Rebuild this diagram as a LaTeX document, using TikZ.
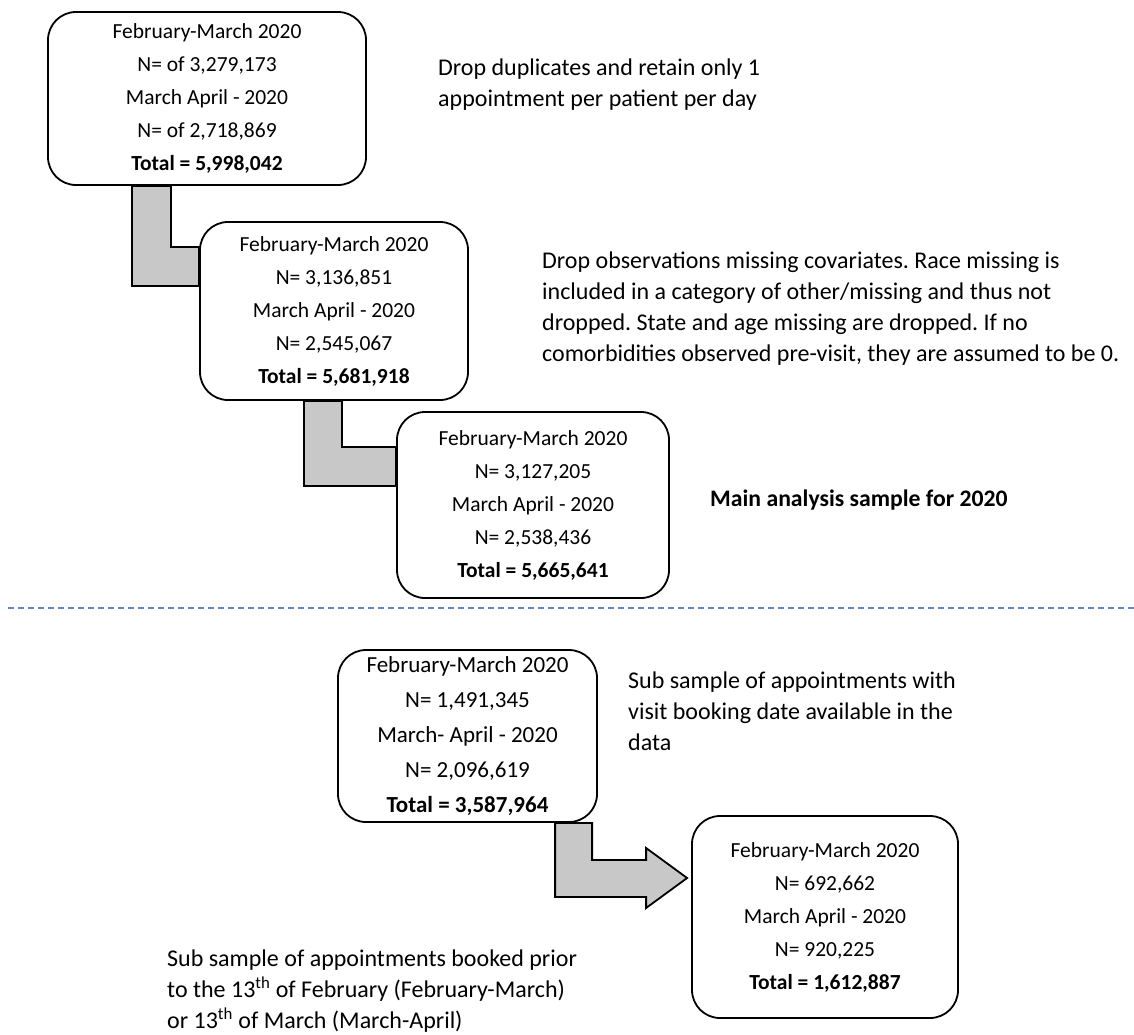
\documentclass[tikz,border=0pt]{standalone}
\usepackage{fontspec}
\setmainfont{Carlito}
\frenchspacing
\usetikzlibrary{calc}
\definecolor{arrowgray}{RGB}{200,200,200}
\definecolor{sepblue}{RGB}{100,135,195}
\begin{document}
\begin{tikzpicture}[x=1pt,y=-1pt,
  box/.style={draw, line width=1.8pt, rounded corners=28pt, fill=white, align=center,
    inner sep=0pt, font=\fontsize{21.5}{33}\selectfont},
  note/.style={anchor=west, align=left, inner sep=0pt, font=\fontsize{24}{31}\selectfont},
  fatarrow/.style={draw, line width=1.8pt, fill=arrowgray, line join=miter},
  sepline/.style={draw=sepblue, line width=1.5pt, dash pattern=on 6pt off 4pt}]
\useasboundingbox (0,0) rectangle (1134,1034);

% boxes
\node[box, minimum width=318pt, minimum height=173pt] (b1) at (207,98.5)
  {February-March 2020\\N= of 3,279,173\\March April - 2020\\N= of 2,718,869\\\textbf{Total = 5,998,042}};
\node[box, minimum width=268pt, minimum height=178pt] (b2) at (334,311)
  {February-March 2020\\N= 3,136,851\\March April - 2020\\N= 2,545,067\\\textbf{Total = 5,681,918}};
\node[box, minimum width=272pt, minimum height=186pt] (b3) at (533,505)
  {February-March 2020\\N= 3,127,205\\March April - 2020\\N= 2,538,436\\\textbf{Total = 5,665,641}};
\node[box, minimum width=259pt, minimum height=172pt, font=\fontsize{23}{35}\selectfont] (b4) at (467.5,736)
  {February-March 2020\\N= 1,491,345\\March- April - 2020\\N= 2,096,619\\\textbf{Total = 3,587,964}};
\node[box, minimum width=266pt, minimum height=202pt] (b5) at (825,917)
  {February-March 2020\\N= 692,662\\March April - 2020\\N= 920,225\\\textbf{Total = 1,612,887}};

% side notes
\node[note] (n1) at (438,85) {Drop duplicates and retain only 1\\appointment per patient per day};
\node[note] (n2) at (542,309) {Drop observations missing covariates. Race missing is\\included in a category of other/missing and thus not\\dropped. State and age missing are dropped. If no\\comorbidities observed pre-visit, they are assumed to be 0.};
\node[note, font=\fontsize{23.7}{31}\selectfont\bfseries] (n3) at (710,500) {Main analysis sample for 2020};
\node[note] (n4) at (628,711) {Sub sample of appointments with\\visit booking date available in the\\data};
\node[note] (n5) at (167,991.5) {Sub sample of appointments booked prior\\to the 13\textsuperscript{th} of February (February-March)\\or 13\textsuperscript{th} of March (March-April)};

% arrow b1 -> b2
\path (b1.south west) ++(85,0) coordinate (a1s1) ++(39,0) coordinate (a1s2);
\path (b2.north west) ++(0,26) coordinate (a1h1) ++(0,39) coordinate (a1h2);
\draw[fatarrow] (a1s1) |- (a1h2) -- (a1h1) -| (a1s2) -- cycle;

% arrow b2 -> b3
\path (b2.south west) ++(105,0) coordinate (a2s1) ++(38,0) coordinate (a2s2);
\path (b3.north west) ++(0,36) coordinate (a2h1) ++(0,39) coordinate (a2h2);
\draw[fatarrow] (a2s1) |- (a2h2) -- (a2h1) -| (a2s2) -- cycle;

% arrow b4 -> b5 (with head)
\path (b4.south west) ++(218,0) coordinate (a3s1) ++(37,0) coordinate (a3s2);
\coordinate (a3tip) at ($(b5.west)+(-4,-39)$);
\path (a3tip) ++(-41,-18) coordinate (a3ht1) ++(0,-12) coordinate (a3ht0);
\path (a3tip) ++(-41,19) coordinate (a3hb1) ++(0,11) coordinate (a3hb0);
\draw[fatarrow] (a3s1) |- (a3hb1) -- (a3hb0) -- (a3tip) -- (a3ht0) -- (a3ht1) -| (a3s2) -- cycle;

% separator
\coordinate (dl) at (8,608);
\coordinate (dr) at (1134,608);
\draw[sepline] (dl) -- (dr);
\end{tikzpicture}
\end{document}
